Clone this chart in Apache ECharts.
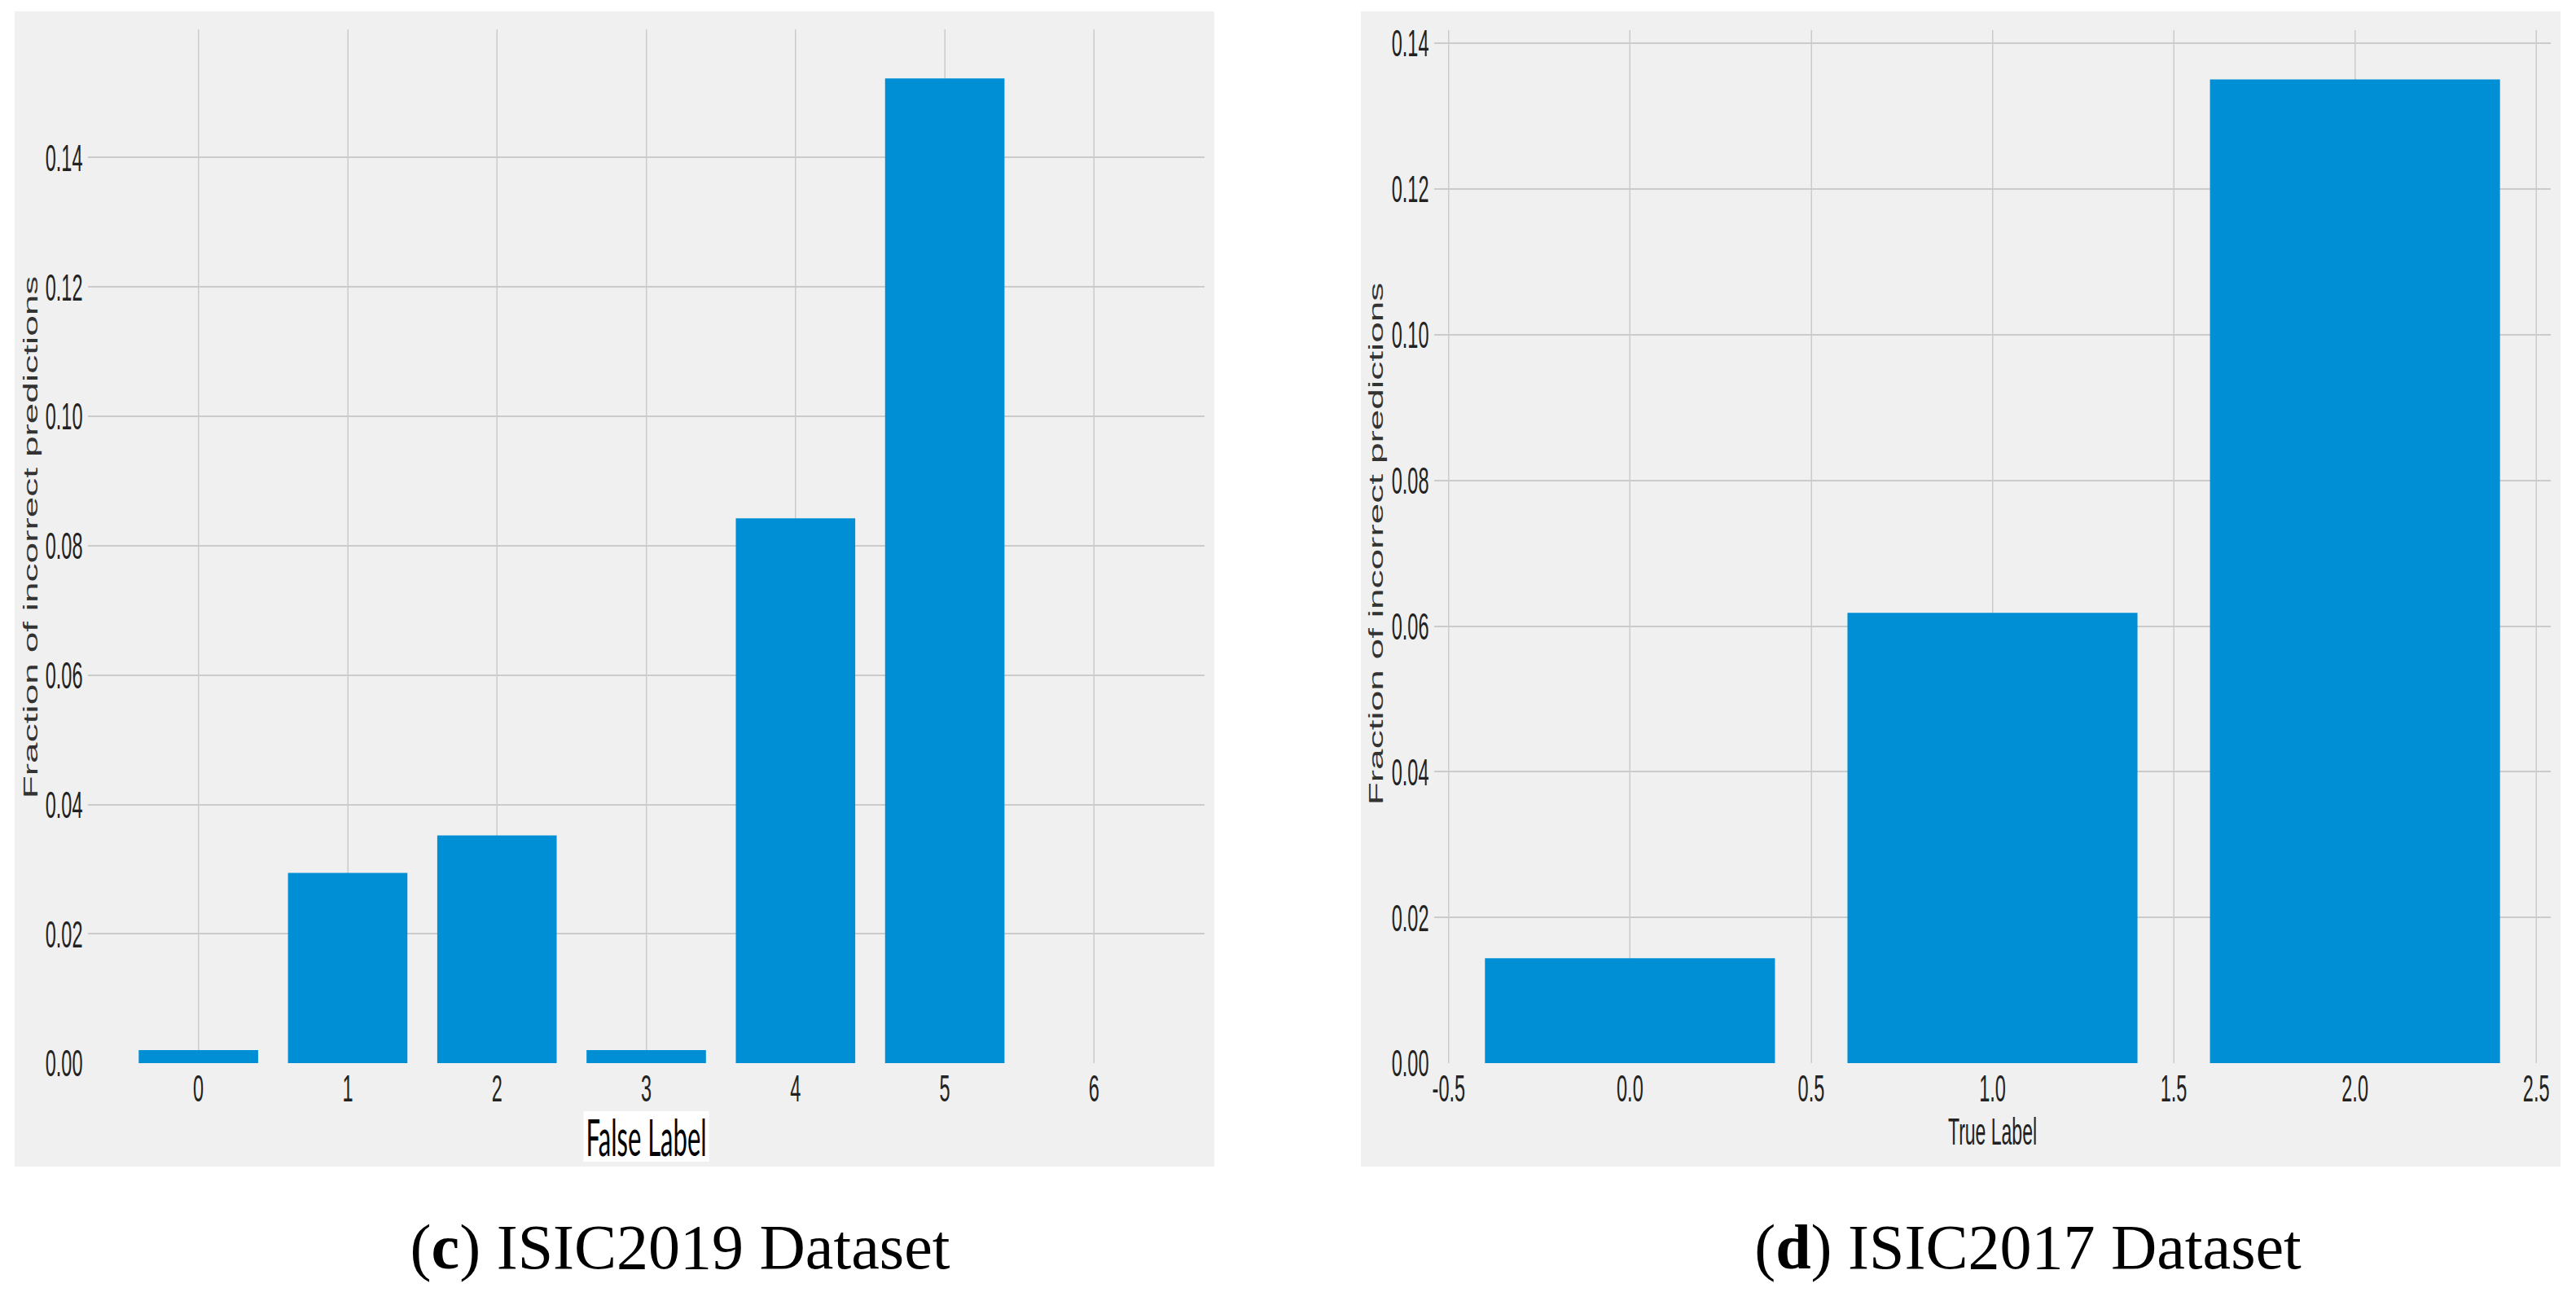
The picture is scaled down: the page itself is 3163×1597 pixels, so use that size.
<!DOCTYPE html>
<html><head><meta charset="utf-8">
<script src="https://cdn.jsdelivr.net/npm/echarts@6/dist/echarts.min.js"></script>
<style>
html,body{margin:0;padding:0;background:#fff;width:3163px;height:1597px;overflow:hidden;}
#captions{position:absolute;left:0;top:0;width:3163px;height:1597px;}
.panel{position:absolute;top:14px;width:2946px;height:1418px;transform:scaleX(0.5);transform-origin:0 0;}
#left{left:18px;}
#right{left:1671px;}
</style></head><body>
<div id="captions"></div>
<div id="left" class="panel"></div>
<div id="right" class="panel"></div>
<script>
// ---- data ----
const leftCategories = [0, 1, 2, 3, 4, 5, 6];
const leftValues = [0.002, 0.0294, 0.0352, 0.002, 0.0842, 0.1522, 0];
const rightCategories = [0, 1, 2];
const rightValues = [0.0144, 0.0618, 0.135];
const leftXLabelDigits = 0;
const rightXLabelDigits = 1;
const yLabelDigits = 2;
const leftCaption = ['c', 'ISIC2019 Dataset'];
const rightCaption = ['d', 'ISIC2017 Dataset'];

const BAR = '#008fd5';
const GRID = '#cbcbcb';
const SANS = '"Liberation Sans", Arial, sans-serif';

function panelOption(cfg) {
  return {
    backgroundColor: '#f0f0f0',
    animation: false,
    grid: { left: 180, right: 24, top: cfg.top, bottom: 127 },
    xAxis: {
      type: 'value', min: cfg.xmin, max: cfg.xmax,
      minInterval: cfg.step, maxInterval: cfg.step, splitNumber: cfg.split,
      axisLine: { show: false }, axisTick: { show: false },
      axisLabel: {
        showMinLabel: false, showMaxLabel: false, margin: 7,
        fontSize: 47, color: '#222', fontFamily: SANS,
        formatter: v => Number(v).toFixed(cfg.xDigits)
      },
      splitLine: { show: true, showMinLine: false, showMaxLine: false,
        lineStyle: { color: GRID, width: 3 } },
      name: cfg.xName, nameLocation: 'middle', nameGap: cfg.xNameGap,
      nameTextStyle: cfg.xNameStyle
    },
    yAxis: {
      type: 'value', min: 0, max: cfg.ymax, interval: 0.02,
      axisLine: { show: false }, axisTick: { show: false },
      axisLabel: {
        showMaxLabel: false, margin: 13, fontSize: 47, color: '#222', fontFamily: SANS,
        formatter: v => Number(v).toFixed(yLabelDigits)
      },
      splitLine: { show: true, showMinLine: false, showMaxLine: false,
        lineStyle: { color: GRID, width: 2 } },
      name: 'Fraction of incorrect predictions', nameLocation: 'middle', nameGap: cfg.yNameGap,
      nameTextStyle: { fontSize: 46, color: '#333', fontFamily: SANS, padding: cfg.yNamePad }
    },
    series: [{
      type: 'bar', silent: true, barWidth: '80%',
      itemStyle: { color: BAR },
      data: cfg.cats.map((c, i) => [c, cfg.vals[i]])
    }]
  };
}

const leftChart = echarts.init(document.getElementById('left'), null, { renderer: 'svg' });
leftChart.setOption(panelOption({
  cats: leftCategories, vals: leftValues, top: 22,
  xmin: -0.74, xmax: 6.74, step: 1, split: 7, xDigits: leftXLabelDigits,
  ymax: 0.1598,
  xName: 'False Label', xNameGap: 55,
  xNameStyle: { fontSize: 62, lineHeight: 62, color: '#000', fontFamily: 'Lato, "Open Sans", sans-serif',
    backgroundColor: '#ffffff', padding: [0, 6, 0, 6] },
  yNameGap: 116, yNamePad: [0, 0, 0, 22]
}));

const rightChart = echarts.init(document.getElementById('right'), null, { renderer: 'svg' });
rightChart.setOption(panelOption({
  cats: rightCategories, vals: rightValues, top: 23,
  xmin: -0.54, xmax: 2.54, step: 0.5, split: 6, xDigits: rightXLabelDigits,
  ymax: 0.14175,
  xName: 'True Label', xNameGap: 61,
  xNameStyle: { fontSize: 46, lineHeight: 46, color: '#222', fontFamily: SANS },
  yNameGap: 118, yNamePad: [0, 0, 0, 7]
}));

function captionEl(x, parts) {
  return {
    type: 'text', x: x, y: 1530,
    style: {
      text: '({b|' + parts[0] + '}) ' + parts[1],
      fill: '#000', fontSize: 78, fontFamily: '"Liberation Serif", "Times New Roman", serif',
      align: 'center', textAlign: 'center', verticalAlign: 'middle', textVerticalAlign: 'middle',
      rich: { b: { fontWeight: 'bold', fontSize: 78, fontFamily: '"Liberation Serif", "Times New Roman", serif', fill: '#000' } }
    }
  };
}
const capChart = echarts.init(document.getElementById('captions'), null, { renderer: 'svg' });
capChart.setOption({
  animation: false,
  graphic: [captionEl(835, leftCaption), captionEl(2490, rightCaption)]
});
</script>
</body></html>
